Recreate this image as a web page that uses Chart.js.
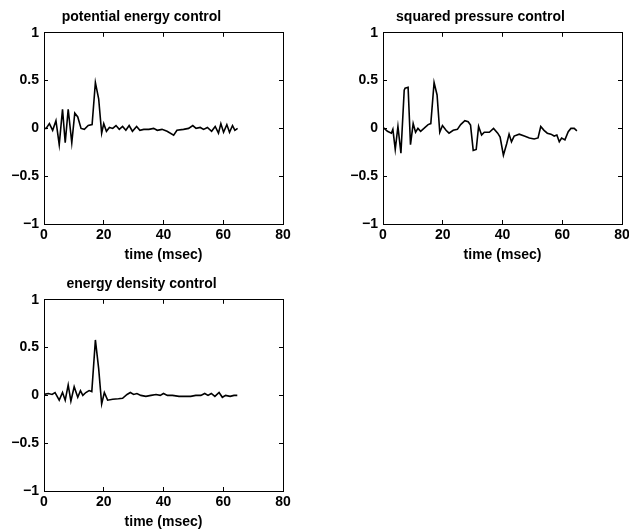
<!DOCTYPE html>
<html>
<head>
<meta charset="utf-8">
<script src="https://cdn.jsdelivr.net/npm/chart.js@4.4.0/dist/chart.umd.min.js"></script>
<style>
  body { margin: 0; background: #fff; }
  #page { position: relative; width: 629px; height: 531px; overflow: hidden; background: #fff; }
  #page canvas { position: absolute; }
</style>
</head>
<body>
<div id="page">
  <canvas id="pe" width="300" height="264" style="left:0;top:0"></canvas>
  <canvas id="sp" width="300" height="264" style="left:339px;top:0"></canvas>
  <canvas id="ed" width="300" height="264" style="left:0;top:267px"></canvas>
</div>
<script>
// values (time in msec)
const peTime = [0, 0.7, 1.8, 2.9, 4.0, 5.1, 6.2, 7.1, 8.1, 9.3, 10.3, 11.3, 12.4, 13.5, 14.8, 16.1, 17.2, 18.3, 19.3, 20.0, 20.9, 21.9, 23.0, 24.1, 25.2, 26.3, 27.4, 28.5, 29.6, 31.0, 32.1, 33.4, 35.1, 36.7, 37.9, 39.5, 41.2, 43.4, 44.5, 46.7, 48.4, 49.8, 50.9, 52.3, 53.4, 54.7, 56.1, 57.3, 58.4, 59.2, 60.1, 61.2, 62.1, 63.1, 63.9, 64.8];
const peValue = [0, 0, 0.05, -0.02, 0.08, -0.17, 0.2, -0.15, 0.2, -0.15, 0.16, 0.12, 0, -0.01, 0.03, 0.04, 0.48, 0.31, -0.05, 0.05, -0.03, 0.01, 0, 0.03, -0.01, 0.02, -0.02, 0.03, -0.03, 0.02, -0.02, -0.01, -0.01, 0, -0.02, -0.01, -0.03, -0.07, -0.02, -0.01, 0, 0.03, 0, 0.01, -0.01, 0.01, -0.03, 0.02, -0.05, 0.05, -0.04, 0.04, -0.04, 0.03, -0.02, 0];

const spTime = [0, 0.4, 1.5, 2.8, 3.3, 4.1, 5.0, 6.0, 7.1, 7.4, 8.4, 8.6, 9.2, 10.1, 10.9, 11.7, 12.6, 13.7, 15.1, 16.0, 17.1, 18.1, 19.0, 19.9, 21.1, 22.1, 23.5, 24.9, 26.0, 27.4, 28.5, 29.3, 30.2, 31.2, 32.0, 33.0, 33.9, 35.6, 37.0, 38.4, 39.2, 40.3, 41.4, 42.2, 43.0, 43.9, 45.6, 47.3, 49.0, 50.6, 51.9, 52.8, 53.9, 55.0, 56.2, 57.3, 58.2, 59.0, 59.8, 60.9, 62.0, 62.9, 64.0, 64.9];
const spValue = [0, 0, -0.03, -0.05, -0.01, -0.22, 0.02, -0.26, 0.4, 0.42, 0.43, 0.43, -0.17, 0.05, -0.04, 0, -0.03, 0, 0.04, 0.05, 0.48, 0.35, -0.04, 0.03, -0.02, -0.05, -0.02, -0.01, 0.04, 0.08, 0.07, 0.035, -0.23, -0.22, 0.02, -0.07, -0.04, -0.04, 0, -0.05, -0.09, -0.28, -0.16, -0.06, -0.14, -0.08, -0.06, -0.08, -0.1, -0.11, -0.1, 0.02, -0.02, -0.05, -0.06, -0.08, -0.07, -0.14, -0.1, -0.12, -0.035, 0, 0, -0.025];

const edTime = [0, 1.45, 2.7, 3.7, 5.1, 6.2, 7.1, 8.1, 9.0, 10.1, 11.3, 12.2, 13.0, 14.0, 15.1, 16.0, 17.2, 18.3, 19.3, 20.2, 21.3, 23.0, 24.9, 26.3, 27.8, 28.9, 30.0, 31.1, 32.4, 34.1, 35.8, 37.5, 38.9, 40.0, 41.3, 43.0, 45.2, 47.5, 49.1, 50.8, 52.5, 53.8, 54.9, 56.0, 57.2, 58.6, 59.7, 60.8, 62.3, 63.6, 64.7];
const edValue = [0.01, 0.02, 0.01, 0.03, -0.05, 0.03, -0.05, 0.11, -0.06, 0.09, -0.02, 0.05, 0, 0.03, 0.05, 0.04, 0.58, 0.28, -0.09, 0.03, -0.05, -0.04, -0.035, -0.03, 0.01, 0.03, 0.01, 0.02, 0, -0.01, 0, 0.01, 0, 0.02, 0, 0, -0.01, -0.01, -0.01, 0, 0, 0.02, 0, 0.02, -0.01, 0.03, -0.02, 0, -0.01, 0, 0];

const xMin = 0, xMax = 80, xStep = 20;
const yMin = -1, yMax = 1, yStep = 0.5;
const xLabel = 'time (msec)';

Chart.defaults.font.family = '"Liberation Sans", Arial, Helvetica, sans-serif';
Chart.defaults.font.size = 14;
Chart.defaults.font.weight = 'bold';
Chart.defaults.color = '#000';

// inward tick marks, no grid in the plot, black frame
const frameGrid = { display: true, drawOnChartArea: false, drawTicks: true, tickLength: -4, color: '#000', lineWidth: 1 };
const frameBorder = { display: true, color: '#000', width: 1 };

function fmtY(v) { return v < 0 ? '\u2212' + Math.abs(v) : String(v); }

function makeChart(id, title, times, values) {
  const pts = times.map(function (t, i) { return { x: t, y: values[i] }; });
  return new Chart(document.getElementById(id), {
    type: 'line',
    data: {
      datasets: [{
        data: pts,
        borderColor: '#000',
        borderWidth: 1.6,
        pointRadius: 0,
        tension: 0,
        fill: false,
      }],
    },
    options: {
      responsive: false,
      animation: false,
      devicePixelRatio: 1,
      layout: { padding: { left: 0, right: 17, top: 0, bottom: 0 } },
      plugins: {
        legend: { display: false },
        tooltip: { enabled: false },
        title: {
          display: true,
          text: title,
          font: { size: 14, weight: 'bold' },
          padding: { top: 9, bottom: 7 },
        },
      },
      scales: {
        x: {
          type: 'linear',
          position: 'bottom',
          min: xMin, max: xMax,
          grid: frameGrid,
          border: frameBorder,
          ticks: { stepSize: xStep, padding: 7, maxRotation: 0 },
          title: { display: true, text: xLabel, padding: { top: 0, bottom: 0 } },
          afterFit: function (s) { s.height = 40; },
        },
        x2: {
          type: 'linear',
          position: 'top',
          min: xMin, max: xMax,
          grid: frameGrid,
          border: frameBorder,
          ticks: { stepSize: xStep, display: false },
          afterFit: function (s) { s.height = 0; },
        },
        y: {
          type: 'linear',
          position: 'left',
          min: yMin, max: yMax,
          grid: frameGrid,
          border: frameBorder,
          ticks: { stepSize: yStep, padding: 9, callback: fmtY },
          afterFit: function (s) { s.width = 44; },
        },
        y2: {
          type: 'linear',
          position: 'right',
          min: yMin, max: yMax,
          grid: frameGrid,
          border: frameBorder,
          ticks: { stepSize: yStep, display: false },
          afterFit: function (s) { s.width = 0; },
        },
      },
    },
  });
}

makeChart('pe', 'potential energy control', peTime, peValue);
makeChart('sp', 'squared pressure control', spTime, spValue);
makeChart('ed', 'energy density control', edTime, edValue);
</script>
</body>
</html>
